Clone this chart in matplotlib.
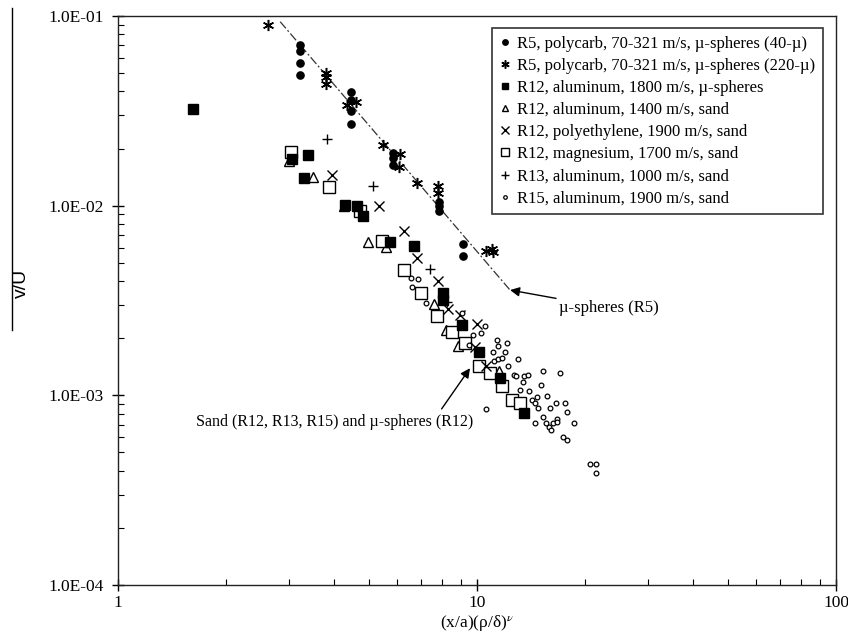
import matplotlib
matplotlib.use("Agg")
import matplotlib.pyplot as plt
from matplotlib.ticker import FuncFormatter, LogLocator, NullFormatter
from matplotlib.lines import Line2D

plt.rcParams['font.family'] = ['Liberation Serif', 'DejaVu Serif']
plt.rcParams['mathtext.fontset'] = 'stix'

# ---------------- data ----------------
labels = [
    "R5, polycarb, 70-321 m/s, \u00b5-spheres (40-\u00b5)",
    "R5, polycarb, 70-321 m/s, \u00b5-spheres (220-\u00b5)",
    "R12, aluminum, 1800 m/s, \u00b5-spheres",
    "R12, aluminum, 1400 m/s, sand",
    "R12, polyethylene, 1900 m/s, sand",
    "R12, magnesium, 1700 m/s, sand",
    "R13, aluminum, 1000 m/s, sand",
    "R15, aluminum, 1900 m/s, sand",
]

r5_40_x = [3.21, 3.21, 3.21, 3.21, 4.45, 4.45, 4.45, 4.45, 5.85, 5.85, 5.85,
           7.85, 7.85, 7.85, 9.16, 9.16]
r5_40_y = [0.0700, 0.0657, 0.0567, 0.0489, 0.0399, 0.0361, 0.0317, 0.0269,
           0.0190, 0.0178, 0.0163, 0.0105, 0.0099, 0.0094, 0.00626, 0.00543]

r5_220_x = [2.61, 3.79, 3.79, 3.79, 4.34, 4.60, 5.46, 6.10, 6.07, 6.82,
            7.80, 7.80, 10.59, 10.99, 11.05]
r5_220_y = [0.0897, 0.0499, 0.0479, 0.0438, 0.0340, 0.0351, 0.0209, 0.0187,
            0.0160, 0.0131, 0.0127, 0.0116, 0.00577, 0.00590, 0.00570]

r12_al1800_x = [1.62, 3.05, 3.39, 3.30, 4.30, 4.64, 4.82, 5.73, 6.68, 8.03,
                8.03, 9.08, 10.10, 11.57, 13.52]
r12_al1800_y = [0.0322, 0.0176, 0.0185, 0.0140, 0.0101, 0.0100, 0.0088,
                0.0064, 0.0061, 0.00348, 0.00317, 0.00236, 0.00169, 0.00124,
                0.000811]

r12_al1400_x = [3.00, 3.50, 4.26, 4.98, 5.58, 7.59, 8.22, 8.85, 11.54]
r12_al1400_y = [0.0173, 0.0142, 0.0099, 0.00646, 0.00604, 0.00303, 0.00221,
                0.00181, 0.00134]

r12_pe_x = [3.94, 5.33, 6.26, 6.79, 7.80, 8.32, 8.97, 9.98, 9.85, 10.60]
r12_pe_y = [0.0145, 0.00996, 0.00738, 0.00528, 0.00403, 0.00284, 0.00265,
            0.00238, 0.00179, 0.00143]

r12_mg_x = [3.03, 3.88, 4.73, 5.43, 6.26, 6.97, 7.75, 8.50, 9.26, 10.10,
            10.87, 11.72, 12.49, 13.18]
r12_mg_y = [0.0193, 0.0125, 0.0094, 0.00654, 0.00458, 0.00348, 0.00261,
            0.00216, 0.00188, 0.00143, 0.00131, 0.00112, 0.00095, 0.00091]

r13_x = [3.83, 5.14, 7.40, 8.25]
r13_y = [0.0226, 0.0127, 0.00464, 0.00312]

r15_x = [6.55, 6.83, 6.60, 7.23, 9.08, 10.56, 9.77, 10.28, 9.52, 11.35,
         11.41, 11.08, 11.15, 11.41, 11.97, 11.72, 12.22, 12.10, 13.03, 12.68,
         12.84, 13.52, 13.84, 15.30, 17.03, 13.46, 13.18, 13.96, 15.05, 15.64,
         14.23, 14.48, 14.82, 14.66, 16.60, 17.62, 15.97, 17.85, 15.24, 15.57,
         16.25, 16.67, 16.74, 14.51, 18.63, 15.90, 16.04, 17.33, 17.78, 10.59,
         20.64, 21.45, 21.45]
r15_y = [0.00417, 0.00413, 0.00374, 0.00305, 0.00271, 0.00231, 0.00208,
         0.00213, 0.00184, 0.00196, 0.00181, 0.00170, 0.00151, 0.00155,
         0.00170, 0.00157, 0.00143, 0.00188, 0.00155, 0.00128, 0.00127,
         0.00126, 0.00128, 0.00135, 0.00131, 0.00117, 0.00107, 0.00105,
         0.00114, 0.000993, 0.000946, 0.000908, 0.000855, 0.000984, 0.000908,
         0.000908, 0.000855, 0.000815, 0.000772, 0.000718, 0.000718, 0.000748,
         0.000727, 0.000713, 0.000718, 0.000684, 0.000657, 0.000601, 0.000582,
         0.000845, 0.000432, 0.000432, 0.000388]

fit_x = [2.83, 12.36]
fit_y = [0.0933, 0.00359]

x_ticks = [1, 10, 100]
y_ticks = [1e-4, 1e-3, 1e-2, 1e-1]

# ---------------- figure ----------------
W, H = 848, 634
fig = plt.figure(figsize=(W / 100, H / 100), dpi=100)
L, R, T, B = 118, 836, 16, 585
ax = fig.add_axes([L / W, 1 - B / H, (R - L) / W, (B - T) / H])
ax.set_xscale('log')
ax.set_yscale('log')
ax.set_xlim(1, 100)
ax.set_ylim(1e-4, 1e-1)

k = 'black'
ax.plot(fit_x, fit_y, color='#333333', lw=0.9, ls=(0, (7, 2, 1.5, 2)), zorder=2)

ax.plot(r12_al1400_x, r12_al1400_y, ls='none', marker='^', ms=6.5, mfc='white',
        mec=k, mew=1.0, label=labels[3], zorder=3)
ax.plot(r12_mg_x, r12_mg_y, ls='none', marker='s', ms=8, mfc='white',
        mec=k, mew=1.0, label=labels[5], zorder=3)
ax.plot(r12_al1800_x, r12_al1800_y, ls='none', marker='s', ms=6.5, mfc=k,
        mec=k, label=labels[2], zorder=4)
ax.plot(r12_pe_x, r12_pe_y, ls='none', marker='x', ms=7, mec=k, mew=1.0,
        label=labels[4], zorder=4)
ax.plot(r13_x, r13_y, ls='none', marker='+', ms=7, mec=k, mew=1.0,
        label=labels[6], zorder=4)
ax.plot(r15_x, r15_y, ls='none', marker='o', ms=3.4, mfc='white', mec=k,
        mew=0.9, label=labels[7], zorder=5)
ax.plot(r5_40_x, r5_40_y, ls='none', marker='o', ms=5.2, mfc=k, mec=k,
        label=labels[0], zorder=5)
ax.plot(r5_220_x, r5_220_y, ls='none', marker=(6, 2, 0), ms=8, mec=k, mew=1.1,
        label=labels[1], zorder=5)

# ticks
ax.set_xticks(x_ticks)
ax.set_yticks(y_ticks)
ax.xaxis.set_major_formatter(FuncFormatter(lambda v, p: f"{v:g}"))
ax.yaxis.set_major_formatter(FuncFormatter(lambda v, p: f"{v:.1E}"))
ax.xaxis.set_minor_locator(LogLocator(base=10, subs=range(2, 10)))
ax.yaxis.set_minor_locator(LogLocator(base=10, subs=range(2, 10)))
ax.xaxis.set_minor_formatter(NullFormatter())
ax.yaxis.set_minor_formatter(NullFormatter())
ax.tick_params(which='major', direction='inout', length=9, width=1,
               labelsize=12.5, color=k)
ax.tick_params(axis='x', which='major', pad=3)
ax.tick_params(axis='y', which='major', pad=6)
ax.tick_params(which='minor', direction='in', length=4, width=0.8, color=k)
for s in ax.spines.values():
    s.set_linewidth(1.0)
    s.set_color('#222222')

ax.set_xlabel("(x/a)(\u03c1/\u03b4)$^{\u03bd}$", fontsize=12.5, labelpad=1)

# y label with its long overline
fig.text(21 / W, 1 - 283 / H, "v/U", rotation=90, ha='center', va='center',
         fontsize=14, family=['Liberation Sans', 'DejaVu Sans'])
fig.add_artist(Line2D([12 / W, 12 / W], [1 - 8 / H, 1 - 330 / H],
                      color=k, lw=1.0))

# legend
leg = ax.legend(handles=[ax.lines[7], ax.lines[8], ax.lines[3], ax.lines[1],
                         ax.lines[4], ax.lines[2], ax.lines[5], ax.lines[6]],
                loc='upper right', bbox_to_anchor=(823 / W, 1 - 28 / H),
                bbox_transform=fig.transFigure, borderaxespad=0,
                fontsize=12, frameon=True, fancybox=False, edgecolor=k,
                handlelength=0.7, handletextpad=0.4, labelspacing=0.37,
                borderpad=0.45, markerscale=0.75)
leg.get_frame().set_linewidth(1.2)

# annotations
ax.annotate("\u00b5-spheres (R5)", xy=(12.36, 0.00359), xytext=(16.9, 0.00289),
            fontsize=12, ha='left', va='center',
            arrowprops=dict(arrowstyle='-|>', color=k, lw=1.0,
                            mutation_scale=14, shrinkA=0, shrinkB=0))
ax.annotate("", xy=(9.56, 0.00139), xytext=(7.97, 0.000848),
            arrowprops=dict(arrowstyle='-|>', color=k, lw=1.0,
                            mutation_scale=14, shrinkA=0, shrinkB=0))
ax.text(9.75, 0.000724, "Sand (R12, R13, R15) and \u00b5-spheres (R12)",
        fontsize=11.5, ha='right', va='center')

fig.savefig("out.png", dpi=100)
